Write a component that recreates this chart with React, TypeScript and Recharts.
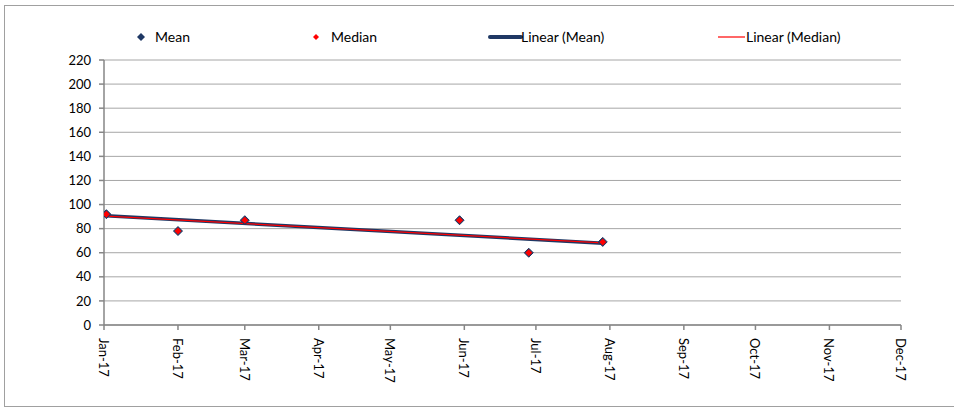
import React from 'react';
import { ComposedChart, Scatter, Line, XAxis, YAxis, CartesianGrid } from 'recharts';

// month ticks on the date axis
const monthTicks = [
  '2017-01-01', '2017-02-01', '2017-03-01', '2017-04-01', '2017-05-01', '2017-06-01',
  '2017-07-01', '2017-08-01', '2017-09-01', '2017-10-01', '2017-11-01', '2017-12-01',
];
const monthNames = ['Jan', 'Feb', 'Mar', 'Apr', 'May', 'Jun', 'Jul', 'Aug', 'Sep', 'Oct', 'Nov', 'Dec'];
const yTicks = [0, 20, 40, 60, 80, 100, 120, 140, 160, 180, 200, 220];

// observations
const pointDates = ['2017-01-02', '2017-02-01', '2017-03-01', '2017-05-30', '2017-06-28', '2017-07-29'];
const meanValues = [92, 78, 87, 87, 60, 69];
const medianValues = [92, 78, 87, 87, 60, 69];

// trend line ends
const trendDates = ['2017-01-02', '2017-07-29'];
const trendMean = [90.6, 67.9];
const trendMedian = [90.4, 68.1];

const NAVY = '#1F3864';
const RED = '#FF0000';
const GRID = '#A6A6A6';
const AXIS = '#868686';
const FONT = 'Lato, "Open Sans", sans-serif';

const ts = (d: string) => Date.parse(d + 'T00:00:00Z');

const meanData = pointDates.map((d, i) => ({ x: ts(d), y: meanValues[i] }));
const medianData = pointDates.map((d, i) => ({ x: ts(d), y: medianValues[i] }));
const trendMeanData = trendDates.map((d, i) => ({ x: ts(d), y: trendMean[i] }));
const trendMedianData = trendDates.map((d, i) => ({ x: ts(d), y: trendMedian[i] }));

const diamond = (cx: number, cy: number, r: number) =>
  `M${cx},${cy - r} L${cx + r},${cy} L${cx},${cy + r} L${cx - r},${cy} Z`;

const MeanShape = (props: any) => {
  const { cx, cy } = props;
  if (cx == null || cy == null) return null;
  return <path d={diamond(cx, cy, 4.5)} fill={NAVY} stroke={NAVY} strokeWidth={1} />;
};

const MedianShape = (props: any) => {
  const { cx, cy } = props;
  if (cx == null || cy == null) return null;
  return <path d={diamond(cx, cy, 3.5)} fill={RED} />;
};

const fmtMonth = (v: number) => {
  const d = new Date(v);
  return `${monthNames[d.getUTCMonth()]}-${String(d.getUTCFullYear()).slice(2)}`;
};

const XTick = (props: any) => {
  const { x, y, payload } = props;
  return (
    <text
      x={x}
      y={y + 6}
      transform={`rotate(90, ${x}, ${y + 6})`}
      textAnchor="start"
      dominantBaseline="central"
      fontFamily={FONT}
      fontSize={13}
      fill="#000"
    >
      {fmtMonth(payload.value)}
    </text>
  );
};

const LegendBox = () => (
  <div style={{ position: 'absolute', left: 0, top: 0, width: 954, height: 60, fontFamily: FONT, fontSize: 14, color: '#000' }}>
    <svg style={{ position: 'absolute', left: 0, top: 0 }} width={954} height={60}>
      <path d={diamond(141, 37, 4)} fill={NAVY} />
      <path d={diamond(316, 37, 3)} fill={RED} />
      <line x1={490} y1={37} x2={521} y2={37} stroke={NAVY} strokeWidth={4} strokeLinecap="round" />
      <line x1={718} y1={37} x2={745} y2={37} stroke={RED} strokeWidth={1.2} />
    </svg>
    <span style={{ position: 'absolute', left: 155, top: 28 }}>Mean</span>
    <span style={{ position: 'absolute', left: 331, top: 28 }}>Median</span>
    <span style={{ position: 'absolute', left: 521, top: 28 }}>Linear (Mean)</span>
    <span style={{ position: 'absolute', left: 746, top: 28 }}>Linear (Median)</span>
  </div>
);

export default function App() {
  return (
    <div style={{ position: 'absolute', left: 0, top: 0, width: 954, height: 409, overflow: 'hidden', background: '#fff' }}>
      <div
        style={{
          position: 'absolute',
          left: 4,
          top: 5,
          width: 980,
          height: 402,
          border: '1px solid #A0A0A0',
          boxSizing: 'border-box',
        }}
      />
      <div style={{ position: 'absolute', left: 0, top: 0 }}>
        <ComposedChart width={954} height={409} margin={{ top: 60, right: 53, bottom: 0, left: 0 }}>
          <CartesianGrid vertical={false} stroke={GRID} strokeWidth={1} />
          <XAxis
            dataKey="x"
            type="number"
            domain={[ts(monthTicks[0]), ts(monthTicks[monthTicks.length - 1])]}
            ticks={monthTicks.map(ts)}
            interval={0}
            allowDataOverflow
            height={84}
            stroke={AXIS}
            strokeWidth={1.5}
            tickSize={5}
            tickLine={{ stroke: AXIS }}
            tick={<XTick />}
          />
          <YAxis
            type="number"
            domain={[0, 220]}
            ticks={yTicks}
            interval={0}
            width={104}
            stroke={AXIS}
            strokeWidth={1.5}
            tickSize={5}
            tickMargin={8}
            tickLine={{ stroke: AXIS }}
            tick={{ fill: '#000', fontSize: 13, fontFamily: FONT }}
          />
          <Scatter name="Mean" data={meanData} dataKey="y" shape={<MeanShape />} isAnimationActive={false} />
          <Scatter name="Median" data={medianData} dataKey="y" shape={<MedianShape />} isAnimationActive={false} />
          <Line
            name="Linear (Mean)"
            data={trendMeanData}
            dataKey="y"
            type="linear"
            stroke={NAVY}
            strokeWidth={3.5}
            dot={false}
            activeDot={false}
            isAnimationActive={false}
          />
          <Line
            name="Linear (Median)"
            data={trendMedianData}
            dataKey="y"
            type="linear"
            stroke={RED}
            strokeWidth={1.3}
            dot={false}
            activeDot={false}
            isAnimationActive={false}
          />
        </ComposedChart>
      </div>
      <LegendBox />
    </div>
  );
}
